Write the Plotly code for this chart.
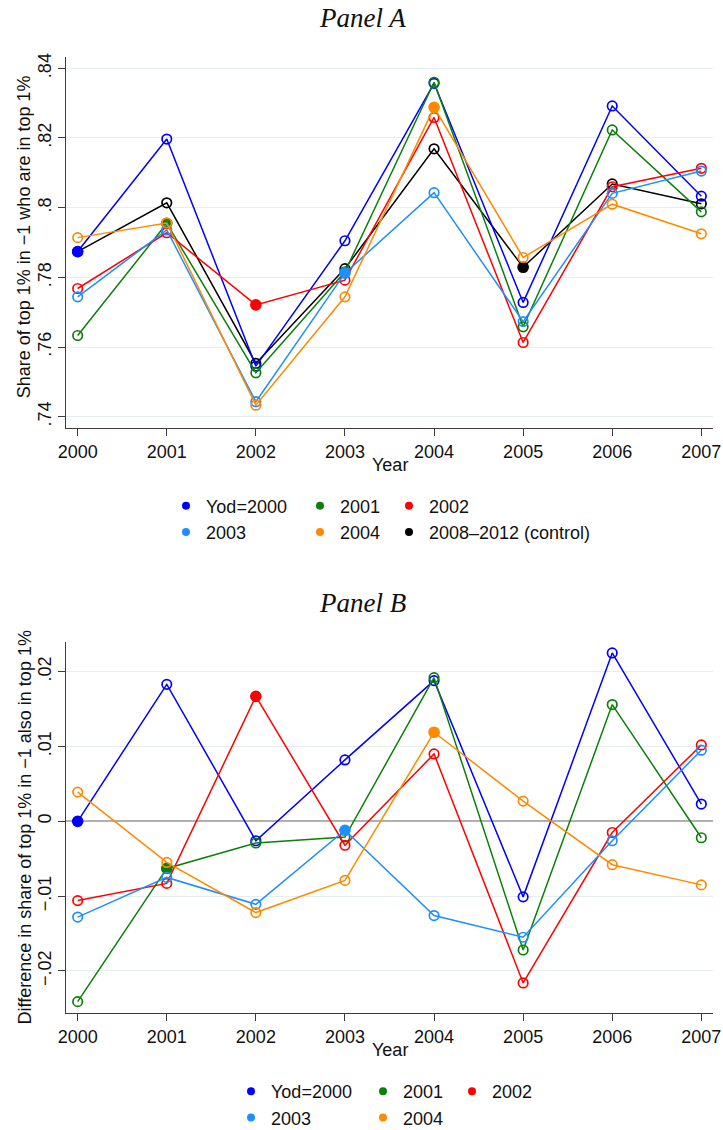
import plotly.graph_objects as go

years = [2000, 2001, 2002, 2003, 2004, 2005, 2006, 2007]

# Panel A: share of top 1% in -1 who are in top 1%
a_yod2000 = [0.7874, 0.8197, 0.7545, 0.7905, 0.8357, 0.7728, 0.8292, 0.8033]
a_2001 = [0.7633, 0.7955, 0.7526, 0.7816, 0.8360, 0.7658, 0.8223, 0.7988]
a_2002 = [0.7768, 0.7928, 0.7721, 0.7792, 0.8259, 0.7613, 0.8060, 0.8113]
a_2003 = [0.7744, 0.7936, 0.7443, 0.7812, 0.8043, 0.7673, 0.8041, 0.8105]
a_2004 = [0.7914, 0.7956, 0.7433, 0.7744, 0.8288, 0.7857, 0.8010, 0.7925]
a_control = [0.7874, 0.8014, 0.7553, 0.7825, 0.8169, 0.7829, 0.8068, 0.8011]

# Panel B: difference relative to control
b_yod2000 = [0.0000, 0.0183, -0.0026, 0.0082, 0.0188, -0.0101, 0.0225, 0.0023]
b_2001 = [-0.0241, -0.0063, -0.0029, -0.0021, 0.0192, -0.0172, 0.0156, -0.0022]
b_2002 = [-0.0106, -0.0083, 0.0167, -0.0032, 0.0090, -0.0216, -0.0015, 0.0102]
b_2003 = [-0.0128, -0.0075, -0.0111, -0.0012, -0.0126, -0.0155, -0.0026, 0.0095]
b_2004 = [0.0039, -0.0055, -0.0122, -0.0079, 0.0119, 0.0027, -0.0058, -0.0085]

names = ["Yod=2000", "2001", "2002", "2003", "2004", "2008\u20132012 (control)"]
filled_years = [2000, 2001, 2002, 2003, 2004, 2005]

a_ticks = [0.74, 0.76, 0.78, 0.80, 0.82, 0.84]
a_ticktext = [".74", ".76", ".78", ".8", ".82", ".84"]
b_ticks = [-0.02, -0.01, 0.0, 0.01, 0.02]
b_ticktext = ["\u2212.02", "\u2212.01", "0", ".01", ".02"]

colors = ["#0000ff", "#0a800a", "#ff0000", "#1e8fff", "#ff8a00", "#000000"]

FONT = "Liberation Sans, Arial, Helvetica, sans-serif"
W, H = 723, 1130
ML, MR, MT, MB = 66, 10, 10, 10
PW, PH = W - ML - MR, H - MT - MB


def px_x(p):
    return (p - ML) / PW


def px_y(p):
    return 1 - (p - MT) / PH


fig = go.Figure()

a_series = [a_yod2000, a_2001, a_2002, a_2003, a_2004, a_control]
b_series = [b_yod2000, b_2001, b_2002, b_2003, b_2004]


def add_series(vals, i, xa, ya):
    fy = filled_years[i]
    sym = ["circle" if y == fy else "circle-open" for y in years]
    size = [10 if y == fy else 9.5 for y in years]
    fig.add_trace(go.Scatter(
        x=years, y=vals, mode="lines+markers", xaxis=xa, yaxis=ya,
        line=dict(color=colors[i], width=1.5),
        marker=dict(symbol=sym, size=size, color=colors[i], opacity=1,
                    line=dict(color=colors[i], width=1.7)),
        showlegend=False, hoverinfo="skip"))


order_a = [5, 0, 1, 2, 3, 4]
for i in order_a:
    add_series(a_series[i], i, "x", "y")
for i in range(5):
    add_series(b_series[i], i, "x2", "y2")

# legends: one per column
legend_cols_a = {0: "legend", 3: "legend", 1: "legend2", 4: "legend2", 2: "legend3", 5: "legend3"}
legend_cols_b = {0: "legend4", 3: "legend4", 1: "legend5", 4: "legend5", 2: "legend6"}
for i in [0, 3, 1, 4, 2, 5]:
    fig.add_trace(go.Scatter(x=[None], y=[None], mode="markers", xaxis="x", yaxis="y",
                             marker=dict(color=colors[i], size=8), name=names[i],
                             legend=legend_cols_a[i], legendgroup="a%d" % i))
for i in [0, 3, 1, 4, 2]:
    fig.add_trace(go.Scatter(x=[None], y=[None], mode="markers", xaxis="x2", yaxis="y2",
                             marker=dict(color=colors[i], size=8), name=names[i],
                             legend=legend_cols_b[i], legendgroup="b%d" % i))

xrng = [1999.869, 2007.131]
common_x = dict(range=xrng, tickvals=years, ticktext=[str(y) for y in years],
                showline=True, linecolor="#3c3c3c", linewidth=1.3, ticks="outside",
                ticklen=7, tickcolor="#3c3c3c", showgrid=False, zeroline=False,
                automargin=False,
                tickfont=dict(family=FONT, size=18, color="#111111"))
common_y = dict(showline=True, linecolor="#3c3c3c", linewidth=1.3, ticks="outside",
                ticklen=7, tickcolor="#3c3c3c", showgrid=True, gridcolor="#e7eef2",
                gridwidth=1, tickangle=-90, automargin=False,
                tickfont=dict(family=FONT, size=18, color="#111111"))

domA = [px_y(428.3), px_y(57.3)]
domB = [px_y(1013.3), px_y(641.7)]

fig.update_layout(
    width=W, height=H, margin=dict(l=ML, r=MR, t=MT, b=MB, autoexpand=False),
    paper_bgcolor="white", plot_bgcolor="white",
    xaxis=dict(common_x, domain=[0, 1], anchor="y"),
    yaxis=dict(common_y, domain=domA, range=[0.73667, 0.84316], tickvals=a_ticks,
               ticktext=a_ticktext, anchor="x", zeroline=False),
    xaxis2=dict(common_x, domain=[0, 1], anchor="y2"),
    yaxis2=dict(common_y, domain=domB, range=[-0.02566, 0.0240], tickvals=b_ticks,
                ticktext=b_ticktext, anchor="x2", zeroline=True,
                zerolinecolor="#b0b0b0", zerolinewidth=1.6),
)

leg_common = dict(orientation="v", yanchor="top", xanchor="left", bgcolor="rgba(0,0,0,0)",
                  font=dict(family=FONT, size=18, color="#111111"), tracegroupgap=0,
                  itemsizing="trace")
fig.update_layout(
    legend=dict(leg_common, x=px_x(166), y=px_y(487.5)),
    legend2=dict(leg_common, x=px_x(300), y=px_y(487.5)),
    legend3=dict(leg_common, x=px_x(389), y=px_y(487.5)),
    legend4=dict(leg_common, x=px_x(231), y=px_y(1073)),
    legend5=dict(leg_common, x=px_x(363), y=px_y(1073)),
    legend6=dict(leg_common, x=px_x(452), y=px_y(1073)),
)

title_font = dict(family="Liberation Serif, Times New Roman, serif", size=27, color="#111111")
ann = [
    dict(text="<i>Panel A</i>", x=px_x(362.5), y=px_y(17.5), xref="paper", yref="paper",
         showarrow=False, font=title_font, xanchor="center", yanchor="middle"),
    dict(text="<i>Panel B</i>", x=px_x(362.5), y=px_y(603), xref="paper", yref="paper",
         showarrow=False, font=title_font, xanchor="center", yanchor="middle"),
    dict(text="Share of top 1% in \u22121 who are in top 1%", x=px_x(24),
         y=(domA[0] + domA[1]) / 2 + 0.005, xref="paper", yref="paper", textangle=-90,
         showarrow=False, font=dict(family=FONT, size=18, color="#111111"),
         xanchor="center", yanchor="middle"),
    dict(text="Difference in share of top 1% in \u22121 also in top 1%", x=px_x(24),
         y=(domB[0] + domB[1]) / 2, xref="paper", yref="paper", textangle=-90,
         showarrow=False, font=dict(family=FONT, size=18, color="#111111"),
         xanchor="center", yanchor="middle"),
    dict(text="Year", x=px_x(389.5), y=px_y(465), xref="paper", yref="paper",
         showarrow=False, font=dict(family=FONT, size=18, color="#111111"),
         xanchor="center", yanchor="middle"),
    dict(text="Year", x=px_x(389.5), y=px_y(1050), xref="paper", yref="paper",
         showarrow=False, font=dict(family=FONT, size=18, color="#111111"),
         xanchor="center", yanchor="middle"),
]
fig.update_layout(annotations=ann)

fig.write_html(
    "out.html",
    config={"displayModeBar": False},
    post_script="document.body.style.margin='0';document.body.style.overflow='hidden';",
)
